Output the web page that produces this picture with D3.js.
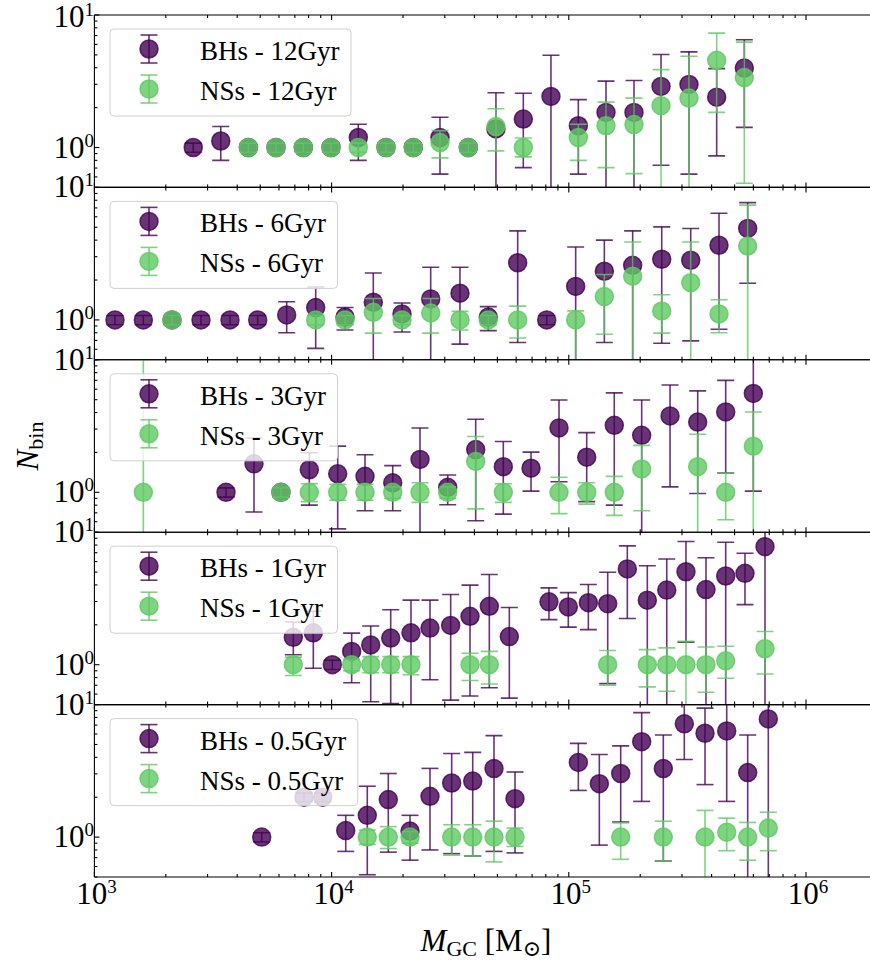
<!DOCTYPE html>
<html>
<head>
<meta charset="utf-8">
<script src="https://cdn.jsdelivr.net/npm/d3@7"></script>
<style>
  body { margin: 0; background: #fff; }
  text { font-family: "Liberation Serif", "DejaVu Serif", serif; fill: #000; }
</style>
</head>
<body>
<div id="chart"></div>
<script>
// ---- data (masses in Msun, counts per bin; lo = 0 means bar runs off the axis) ----
const ages = ["12Gyr", "6Gyr", "3Gyr", "1Gyr", "0.5Gyr"];

const m12 = [2610, 3410, 4460, 5830, 7600, 9940, 12960, 16960, 22100, 28640, 37700, 49300, 64300, 84100, 109700, 143500, 188300, 244800, 321100, 420200, 549500];
const bh12 = [1, 1.12, 1, 1, 1, 1, 1.19, 1, 1, 1.19, 1, 1.38, 1.64, 2.43, 1.46, 1.84, 1.84, 2.89, 2.99, 2.40, 3.98];
const bh12Lo = [0.92, 0.80, 0.92, 0.92, 0.92, 0.92, 0.80, 0.92, 0.92, 0.63, 0.92, 0, 0.705, 0, 0.63, 0, 0, 0.735, 0.63, 0.865, 1.42];
const bh12Hi = [1.08, 1.44, 1.08, 1.08, 1.08, 1.08, 1.50, 1.08, 1.08, 1.69, 1.08, 2.59, 2.57, 4.97, 2.30, 3.17, 3.2, 5.03, 5.27, 3.94, 6.5];
const ns12 = [null, null, 1, 1, 1, 1, 1, 1, 1, 1.09, 1, 1.44, 1, null, 1.19, 1.46, 1.49, 2.07, 2.36, 4.55, 3.37];
const ns12Lo = [null, null, 0.92, 0.92, 0.92, 0.92, 0.92, 0.92, 0.92, 0.835, 0.92, 0.944, 0.85, null, 0.80, 0.705, 0.635, 0, 0, 1.84, 0.537];
const ns12Hi = [null, null, 1.08, 1.08, 1.08, 1.08, 1.08, 1.08, 1.08, 1.34, 1.08, 1.96, 1.18, null, 1.5, 2.2, 2.36, 3.87, 4.88, 7.3, 6.24];

const m6 = [1221, 1608, 2124, 2814, 3729, 4880, 6466, 8570, 11390, 14990, 19810, 26170, 34770, 45770, 60890, 80700, 106900, 141200, 185900, 246500, 326600, 429800, 567800];
const bh6 = [1, 1, 1, 1, 1, 1, 1.09, 1.24, 1.05, 1.36, 1.11, 1.44, 1.59, 1.05, 2.70, 1, 1.79, 2.33, 2.58, 2.87, 2.82, 3.66, 4.90];
const bh6Lo = [0.92, 0.92, 0.92, 0.92, 0.92, 0.92, 0.80, 0.61, 0.84, 0, 0.81, 0, 0.656, 0.83, 0.675, 0.92, 0, 0.675, 0, 0.667, 0.695, 0.85, 1.89];
const bh6Hi = [1.08, 1.08, 1.08, 1.08, 1.08, 1.08, 1.37, 1.77, 1.24, 2.26, 1.34, 2.5, 2.5, 1.26, 4.7, 1.08, 3.55, 4.0, 4.7, 5.04, 4.9, 6.38, 7.68];
const ns6 = [null, null, 1, null, null, null, null, 1, 1, 1.14, 1, 1.13, 1, 1, 1, null, 1, 1.50, 2.14, 1.17, 1.91, 1.11, 3.61];
const ns6Lo = [null, null, 0.92, null, null, null, null, 0.92, 0.92, 0.795, 0.92, 0.795, 0.84, 0.92, 0.73, null, 0, 0.78, 0, 0.795, 0, 0.80, 0];
const ns6Hi = [null, null, 1.08, null, null, null, null, 1.08, 1.08, 1.45, 1.08, 1.45, 1.16, 1.08, 1.27, null, 1.17, 2.2, 3.87, 1.55, 3.87, 1.42, 7.35];

const m3 = [1608, 3588, 4708, 6117, 8054, 10610, 13830, 18100, 23590, 30870, 40510, 52960, 69300, 90930, 119000, 155500, 202900, 267200, 349500, 458700, 599700];
const bh3 = [null, 1, 1.64, 1, 1.48, 1.38, 1.32, 1.18, 1.77, 1.09, 2.10, 1.56, 1.52, 3.06, 1.84, 3.20, 2.69, 3.77, 3.39, 4.04, 5.57];
const bh3Lo = [null, 0.92, 0.71, 0.92, 0.8, 0.53, 0.725, 0.725, 0, 0.805, 0.61, 0.685, 1.02, 1.2, 0.85, 0.80, 0, 1.10, 0.98, 1.40, 1.02];
const bh3Hi = [null, 1.08, 2.57, 1.08, 1.99, 2.23, 1.92, 1.59, 3.06, 1.35, 3.56, 2.42, 2.01, 4.97, 2.82, 5.63, 4.97, 6.45, 5.83, 7.0, 15];
const ns3 = [1, null, null, 1, 1, 1, 1, 1, 1, 1, 1.71, 1, null, 1, 1, 1, 1.50, null, 1.56, 1, 2.23];
const ns3Lo = [0, null, null, 0.92, 0.85, 0.87, 0.87, 0.9, 0.84, 0.9, 0.75, 0.84, null, 0.69, 0.815, 0.67, 0.725, null, 0, 0.62, 0];
const ns3Hi = [15, null, null, 1.08, 1.16, 1.15, 1.15, 1.1, 1.18, 1.1, 2.64, 1.16, null, 1.30, 1.18, 1.32, 2.26, null, 2.74, 1.4, 4.04];

const m1 = [6895, 8374, 10070, 12150, 14620, 17750, 21610, 25990, 31770, 38330, 46230, 56140, 82490, 99520, 120900, 145900, 176500, 214300, 258800, 311900, 378800, 458700, 553100, 671700];
const bh1 = [1.61, 1.74, 1, 1.26, 1.41, 1.59, 1.74, 1.89, 1.98, 2.32, 2.76, 1.63, 2.98, 2.73, 2.94, 2.89, 5.28, 3.07, 3.66, 5.03, 3.69, 4.67, 4.89, 7.78];
const bh1Lo = [1.19, 0.94, 0.92, 0.73, 0.525, 0.51, 0, 0.77, 0.54, 0.58, 0.67, 0.56, 2.19, 1.92, 1.84, 0.72, 2.23, 0, 0, 1.48, 0, 0, 2.84, 0];
const bh1Hi = [2.10, 2.53, 1.08, 1.73, 1.96, 2.6, 3.07, 3.07, 3.39, 3.99, 4.8, 2.70, 3.8, 3.5, 4.03, 4.98, 7.88, 5.58, 6.27, 8.5, 6.42, 8.4, 6.93, 15];
const ns1 = [1, null, null, 1, 1, 1, 1, null, null, 1, 1, null, null, null, null, 1, null, 1, 1, 1, 1, 1.07, null, 1.32];
const ns1Lo = [0.83, null, null, 0.9, 0.87, 0.87, 0.84, null, null, 0.76, 0.715, null, null, null, null, 0.70, null, 0.68, 0.63, 0, 0.62, 0.79, null, 0.85];
const ns1Hi = [1.14, null, null, 1.1, 1.15, 1.15, 1.15, null, null, 1.22, 1.26, null, null, null, null, 1.28, null, 1.30, 1.34, 1.5, 1.36, 1.38, null, 1.78];

const m05 = [5074, 7649, 9173, 11470, 14140, 17340, 21410, 25990, 32080, 39350, 48380, 59320, 109700, 134500, 165500, 202900, 250300, 306900, 375200, 463200, 567800, 693600];
const bh05 = [1, 2, 2, 1.12, 1.46, 1.92, 1.11, 2.03, 2.56, 2.65, 3.29, 1.95, 3.66, 2.53, 3.02, 5.25, 3.29, 7.16, 6.08, 6.33, 3.07, 7.8];
const bh05Lo = [0.92, 1.85, 1.85, 0.78, 0.52, 0.77, 0.67, 0.80, 0.75, 0.72, 0.78, 0.76, 2.25, 0.87, 1.3, 1.86, 0.66, 3.85, 2.49, 1.86, 0, 0];
const bh05Hi = [1.08, 2.15, 2.15, 1.46, 2.42, 3.02, 1.46, 3.3, 4.28, 4.36, 5.83, 3.1, 5.1, 4.2, 4.88, 8.7, 5.9, 12, 9.4, 12, 5.9, 15];
const ns05 = [null, null, null, null, 1, 1, 1, null, 1, 1, 1, 1, null, null, 1, null, 1, null, 1, 1.09, 1, 1.17];
const ns05Lo = [null, null, null, null, 0.88, 0.82, 0.9, null, 0.73, 0.72, 0.65, 0.85, null, null, 0.68, null, 0.66, null, 0, 0.79, 0.67, 0.79];
const ns05Hi = [null, null, null, null, 1.13, 1.2, 1.1, null, 1.24, 1.24, 1.32, 1.17, null, null, 1.28, null, 1.32, null, 1.59, 1.39, 1.29, 1.54];

const xTickExp = [3, 4, 5, 6];
const yTickExp = [0, 1];

const panels = [
  {age: ages[0], m: m12, bh: [bh12, bh12Lo, bh12Hi], ns: [ns12, ns12Lo, ns12Hi]},
  {age: ages[1], m: m6, bh: [bh6, bh6Lo, bh6Hi], ns: [ns6, ns6Lo, ns6Hi]},
  {age: ages[2], m: m3, bh: [bh3, bh3Lo, bh3Hi], ns: [ns3, ns3Lo, ns3Hi]},
  {age: ages[3], m: m1, bh: [bh1, bh1Lo, bh1Hi], ns: [ns1, ns1Lo, ns1Hi]},
  {age: ages[4], m: m05, bh: [bh05, bh05Lo, bh05Hi], ns: [ns05, ns05Lo, ns05Hi]}
];

// ---- layout ----
const width = 870, height = 961;
const left = 94.4, right = 877.4, top0 = 15, panelH = 172.4;
const purple = "#440154", green = "#5ec962";
const capW = 8.5, rad = 9;

const svg = d3.select("#chart")
	.append("svg")
	.attr("width", width)
	.attr("height", height);

const x = d3.scaleLog().domain([1e3, 2e6]).range([left, right]);

function errorSeries(g, y, bottom, m, vals, color) {
	const [v, lo, hi] = vals;
	const pts = m.map((d, i) => ({m: d, v: v[i], lo: lo[i], hi: hi[i]}))
		.filter(d => d.v != null);

	const bars = g.append("g")
		.attr("stroke", color)
		.attr("stroke-opacity", 0.8)
		.attr("stroke-width", 1.6);

	bars.selectAll(".bar").data(pts).join("line")
		.attr("x1", d => x(d.m)).attr("x2", d => x(d.m))
		.attr("y1", d => d.lo > 0 ? y(d.lo) : bottom + 2)
		.attr("y2", d => y(d.hi));

	bars.selectAll(".capHi").data(pts).join("line")
		.attr("x1", d => x(d.m) - capW).attr("x2", d => x(d.m) + capW)
		.attr("y1", d => y(d.hi)).attr("y2", d => y(d.hi));

	bars.selectAll(".capLo").data(pts.filter(d => d.lo > 0)).join("line")
		.attr("x1", d => x(d.m) - capW).attr("x2", d => x(d.m) + capW)
		.attr("y1", d => y(d.lo)).attr("y2", d => y(d.lo));

	g.append("g").selectAll("circle").data(pts).join("circle")
		.attr("cx", d => x(d.m))
		.attr("cy", d => y(d.v))
		.attr("r", rad)
		.attr("fill", color).attr("fill-opacity", 0.8)
		.attr("stroke", color).attr("stroke-opacity", 0.8).attr("stroke-width", 1.5);
}

function legendEntry(g, cx, cy, color) {
	g.append("line").attr("x1", cx).attr("x2", cx).attr("y1", cy - 14).attr("y2", cy + 14);
	g.append("line").attr("x1", cx - capW).attr("x2", cx + capW).attr("y1", cy - 14).attr("y2", cy - 14);
	g.append("line").attr("x1", cx - capW).attr("x2", cx + capW).attr("y1", cy + 14).attr("y2", cy + 14);
	g.attr("stroke", color).attr("stroke-opacity", 0.8).attr("stroke-width", 1.6);
	g.append("circle").attr("cx", cx).attr("cy", cy).attr("r", rad)
		.attr("fill", color).attr("fill-opacity", 0.8).attr("stroke-width", 1.5);
}

function powLabel(sel, exp) {
	sel.append("tspan").text("10");
	sel.append("tspan").attr("dy", -11).attr("font-size", 19).text(exp);
}

panels.forEach((p, i) => {
	const top = top0 + i * panelH, bottom = top + panelH;
	const y = d3.scaleLog().domain([0.5, 10]).range([bottom, top]);

	svg.append("clipPath").attr("id", "clip" + i)
		.append("rect").attr("x", left).attr("y", top).attr("width", right - left).attr("height", panelH);

	const g = svg.append("g").attr("clip-path", `url(#clip${i})`);
	errorSeries(g, y, bottom, p.m, p.bh, purple);
	errorSeries(g, y, bottom, p.m, p.ns, green);

	// legend
	const lg = svg.append("g");
	const box = lg.append("rect")
		.attr("x", 110).attr("y", top + 14).attr("height", 87).attr("rx", 4)
		.attr("fill", "#fff").attr("fill-opacity", 0.8)
		.attr("stroke", "#d0d0d0").attr("stroke-width", 1);
	legendEntry(lg.append("g"), 149, top + 34, purple);
	legendEntry(lg.append("g"), 149, top + 74, green);
	const t1 = lg.append("text").attr("x", 200).attr("y", top + 45).attr("font-size", 27).text("BHs - " + p.age);
	const t2 = lg.append("text").attr("x", 200).attr("y", top + 85).attr("font-size", 27).text("NSs - " + p.age);
	const tw = Math.max(t1.node().getComputedTextLength(), t2.node().getComputedTextLength());
	box.attr("width", 90 + tw + 11.5);

	// spines
	const ax = svg.append("g").attr("stroke", "#000").attr("stroke-width", 1.1);
	ax.append("line").attr("x1", left).attr("x2", right).attr("y1", top).attr("y2", top);
	ax.append("line").attr("x1", left).attr("x2", right).attr("y1", bottom).attr("y2", bottom);
	ax.append("line").attr("x1", left).attr("x2", left).attr("y1", top).attr("y2", bottom);

	// x ticks (inward, top and bottom)
	const xMinor = x.ticks().filter(t => !xTickExp.some(e => Math.abs(t - Math.pow(10, e)) < 1e-6));
	const xMajor = xTickExp.map(e => Math.pow(10, e));
	[[xMajor, 5], [xMinor, 3]].forEach(([ts, len]) => {
		ts.forEach(t => {
			ax.append("line").attr("x1", x(t)).attr("x2", x(t)).attr("y1", bottom).attr("y2", bottom - len);
			ax.append("line").attr("x1", x(t)).attr("x2", x(t)).attr("y1", top).attr("y2", top + len);
		});
	});

	// y ticks (inward, left)
	const yMajor = yTickExp.map(e => Math.pow(10, e));
	const yMinor = y.ticks().filter(t => !yMajor.includes(t));
	yMajor.forEach(t => ax.append("line").attr("x1", left).attr("x2", left + 5).attr("y1", y(t)).attr("y2", y(t)));
	yMinor.forEach(t => ax.append("line").attr("x1", left).attr("x2", left + 3).attr("y1", y(t)).attr("y2", y(t)));

	yTickExp.forEach(e => {
		// the very top label sits against the page edge, nudge it down a touch
		const nudge = (i === 0 && e === 1) ? 2 : 0;
		svg.append("text")
			.attr("x", 94).attr("y", y(Math.pow(10, e)) + 10 + nudge)
			.attr("text-anchor", "end").attr("font-size", 31)
			.call(powLabel, e);
	});

	if (i === panels.length - 1) {
		xTickExp.forEach(e => {
			svg.append("text")
				.attr("x", x(Math.pow(10, e)) + 2).attr("y", bottom + 27)
				.attr("text-anchor", "middle").attr("font-size", 31)
				.call(powLabel, e);
		});
	}
});

// axis labels
const xl = svg.append("text")
	.attr("x", 486).attr("y", 951)
	.attr("text-anchor", "middle").attr("font-size", 31);
xl.append("tspan").attr("font-style", "italic").text("M");
xl.append("tspan").attr("font-size", 22).attr("dy", 5).text("GC");
xl.append("tspan").attr("dy", -5).text(" [M");
xl.append("tspan").attr("font-size", 22).attr("dy", 5).attr("font-family", "DejaVu Serif").text("\u2299");
xl.append("tspan").attr("dy", -5).text("]");

const yl = svg.append("text")
	.attr("transform", "translate(38,446) rotate(-90)")
	.attr("text-anchor", "middle").attr("font-size", 31);
yl.append("tspan").attr("font-style", "italic").text("N");
yl.append("tspan").attr("font-size", 22).attr("dy", 5).text("bin");
</script>
</body>
</html>
